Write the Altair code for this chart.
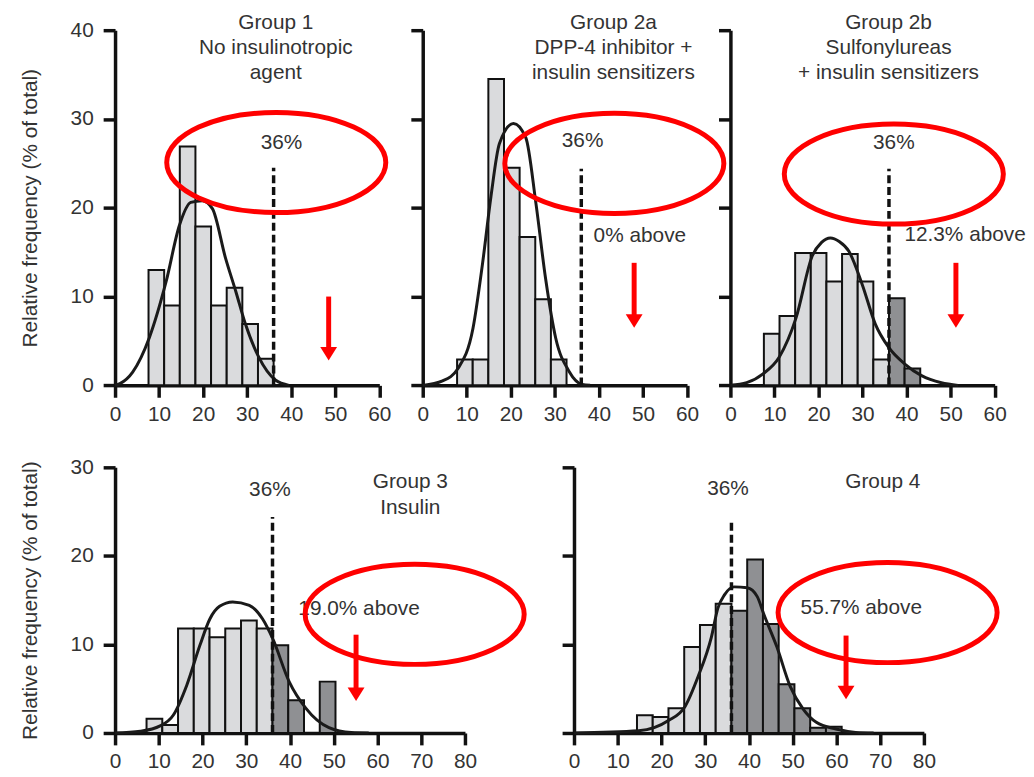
import altair as alt
import pandas as pd

FONT = "Liberation Sans"
TEXT_COLOR = "#333333"
LIGHT = "#dadbdd"
DARK = "#8f9093"
RED = "#ff0000"
THRESHOLD = 36
Y_TITLE = "Relative frequency (% of total)"
FS = 21

# ---------------- Group 1 ----------------
G1_BIN_START = [7.6, 11.15, 14.7, 18.25, 21.8, 25.35, 28.9, 32.45]
G1_BIN_WIDTH = 3.55
G1_FREQ = [13.0, 9.0, 26.9, 17.9, 9.0, 11.0, 6.9, 3.0]
G1_CURVE_X = [0, 1.1, 4.0, 7.8, 11.6, 14.6, 17.2, 19.8, 22.1, 25.1, 27.4, 29.6, 32.6, 36.4, 39.5]
G1_CURVE_Y = [0, 0.2, 1.5, 5.4, 11.7, 18.0, 20.6, 20.8, 19.9, 14.3, 10.6, 6.9, 3.2, 0.6, 0]
G1_TITLE = ["Group 1", "No insulinotropic", "agent"]

# ---------------- Group 2a ----------------
G2A_BIN_START = [7.8, 11.35, 14.9, 18.45, 22.0, 25.55, 29.1]
G2A_BIN_WIDTH = 3.55
G2A_FREQ = [2.9, 2.9, 34.5, 24.5, 16.7, 9.7, 2.9]
G2A_CURVE_X = [0, 4.5, 8.0, 11.4, 13.6, 15.5, 17.4, 20.6, 23.4, 25.7, 27.9, 30.2, 33.2, 36.2, 38]
G2A_CURVE_Y = [0, 0.5, 1.9, 6.4, 13.8, 21.3, 27.2, 29.5, 27.9, 20.5, 12.0, 5.3, 1.6, 0.1, 0]
G2A_TITLE = ["Group 2a", "DPP-4 inhibitor +", "insulin sensitizers"]

# ---------------- Group 2b ----------------
G2B_BIN_START = [7.6, 11.15, 14.7, 18.25, 21.8, 25.35, 28.9, 32.45, 36.0, 39.55]
G2B_BIN_WIDTH = 3.55
G2B_FREQ = [5.8, 7.8, 14.9, 14.9, 11.7, 14.8, 11.7, 2.9, 9.8, 1.9]
G2B_CURVE_X = [0, 3.7, 7.4, 11.1, 14.9, 18.6, 20.7, 22.7, 24.7, 26.9, 29.9, 32.9, 35.9, 39.6, 43.4, 47.9, 51.7]
G2B_CURVE_Y = [0, 0.3, 1.3, 3.2, 7.6, 14.6, 16.1, 16.6, 16.2, 15.1, 11.4, 6.9, 4.3, 2.4, 1.1, 0.3, 0]
G2B_TITLE = ["Group 2b", "Sulfonylureas", "+ insulin sensitizers"]

# ---------------- Group 3 ----------------
G3_BIN_START = [7.2, 10.8, 14.4, 18.0, 21.6, 25.2, 28.8, 32.4, 36.0, 39.6, 46.8]
G3_BIN_WIDTH = 3.6
G3_FREQ = [1.6, 0.9, 11.8, 11.8, 10.8, 11.8, 12.7, 11.8, 9.9, 3.7, 5.8]
G3_CURVE_X = [0, 5.8, 10.3, 13.3, 16.4, 19.4, 21.7, 23.9, 26.9, 30.7, 33.7, 36.0, 39.8, 43.6, 48.9, 54, 58]
G3_CURVE_Y = [0, 0.2, 0.8, 2.0, 5.4, 9.9, 12.9, 14.3, 14.8, 14.4, 12.9, 10.7, 5.8, 2.8, 0.6, 0.05, 0]
G3_TITLE = ["Group 3", "Insulin"]

# ---------------- Group 4 ----------------
G4_BIN_START = [14.4, 18.0, 21.6, 25.2, 28.8, 32.4, 36.0, 39.6, 43.2, 46.8, 50.4, 54.0, 57.6]
G4_BIN_WIDTH = 3.6
G4_FREQ = [2.0, 1.8, 2.8, 9.7, 12.2, 14.6, 13.8, 19.6, 12.3, 5.5, 2.8, 0.6, 0.7]
G4_CURVE_X = [0, 14.8, 21.6, 25.4, 28.4, 31.4, 32.9, 34.4, 36.6, 39.6, 41.9, 43.4, 46.4, 49.4, 52.4, 55.4, 59.9, 64.4, 68.5]
G4_CURVE_Y = [0, 0.25, 1.4, 3.0, 6.4, 10.8, 14.1, 15.6, 16.5, 16.4, 15.4, 13.4, 9.7, 5.3, 2.7, 1.2, 0.45, 0.07, 0]
G4_TITLE = ["Group 4"]

# annotation texts
ABOVE_TEXT = ["", "0% above", "12.3% above", "19.0% above", "55.7% above"]

# annotation anchor values (data units)
TITLE_X = [36.5, 43.3, 35.9, 67.5, 70.6]
TITLE_Y = [[40.8, 38.0, 35.15], [40.8, 38.0, 35.15], [40.8, 38.0, 35.15], [28.3, 25.4], [28.3]]
PCT_X = [37.8, 36.3, 37.1, 35.4, 35.2]
PCT_Y = [27.3, 27.5, 27.3, 27.4, 27.5]
ABOVE_X = [None, 38.8, 39.5, 41.9, 51.8]
ABOVE_Y = [None, 16.8, 16.9, 14.0, 14.1]
ELL_X = [36.6, 43.5, 37.1, 68.5, 71.7]
ELL_Y = [25.1, 25.0, 23.8, 13.4, 13.6]
ARROW_X = [48.5, 48.0, 51.2, 55.1, 62.2]
ARROW_TOP = [10.0, 13.8, 13.8, 11.1, 11.0]
ARROW_TIP = [2.8, 6.5, 6.5, 3.6, 3.8]
DASH_TOP = [24.5, 24.4, 24.4, 24.4, 24.2]

ELL_W = 221
ELL_K = 0.457
c = 0.5523
ELLIPSE = (
    f"M -1 0 C -1 {-c*ELL_K:.4f} {-c} {-ELL_K} 0 {-ELL_K} "
    f"C {c} {-ELL_K} 1 {-c*ELL_K:.4f} 1 0 "
    f"C 1 {c*ELL_K:.4f} {c} {ELL_K} 0 {ELL_K} "
    f"C {-c} {ELL_K} -1 {c*ELL_K:.4f} -1 0 Z"
)
HEAD = "M -1 -1.6 L 1 -1.6 L 0 0 Z"


def panel(i, bin_start, bin_width, freq, cx, cy, title_lines, xmax, ymax, w, h, show_y):
    bars = pd.DataFrame({"start": bin_start, "freq": freq})
    bars["end"] = bars["start"] + bin_width
    bars["shade"] = ["dark" if s >= THRESHOLD - 1e-6 else "light" for s in bin_start]

    xscale = alt.Scale(domain=[0, xmax], nice=False, zero=False)
    yscale = alt.Scale(domain=[0, ymax], nice=False, zero=False)
    xaxis = alt.Axis(values=list(range(0, xmax + 1, 10)), title=None, labelPadding=6,
                     labelFlush=False, labelOverlap=False)
    if show_y:
        yaxis = alt.Axis(values=list(range(0, ymax + 1, 10)), title=Y_TITLE, labelPadding=10,
                         titlePadding=30, labelFlush=False, labelOverlap=False)
    else:
        yaxis = alt.Axis(values=list(range(0, ymax + 1, 10)), title=None, labels=False)

    def X(f):
        return alt.X(f, type="quantitative", scale=xscale, axis=xaxis)

    def Y(f):
        return alt.Y(f, type="quantitative", scale=yscale, axis=yaxis)

    layers = []
    layers.append(
        alt.Chart(bars).mark_rect(stroke="#111111", strokeWidth=2).encode(
            x=X("start"), x2="end", y=Y("freq"), y2=alt.datum(0),
            color=alt.Color("shade:N", scale=alt.Scale(domain=["light", "dark"], range=[LIGHT, DARK]),
                            legend=None),
        )
    )
    curve = pd.DataFrame({"x": cx, "y": cy})
    layers.append(
        alt.Chart(curve).mark_line(interpolate="monotone", color="#1a1a1a", strokeWidth=3).encode(
            x=X("x"), y=Y("y")
        )
    )
    dash = pd.DataFrame({"x": [THRESHOLD], "y": [0], "y2": [DASH_TOP[i]]})
    layers.append(
        alt.Chart(dash).mark_rule(strokeDash=[8, 4], strokeWidth=3.5, color="#111111").encode(
            x=X("x"), y=Y("y"), y2="y2"
        )
    )
    ctexts = pd.DataFrame({
        "x": [TITLE_X[i]] * len(title_lines) + [PCT_X[i]],
        "y": TITLE_Y[i] + [PCT_Y[i]],
        "text": title_lines + ["36%"],
    })
    layers.append(
        alt.Chart(ctexts).mark_text(font=FONT, fontSize=FS, color=TEXT_COLOR, align="center",
                                    baseline="middle").encode(x=X("x"), y=Y("y"), text="text:N")
    )
    if ABOVE_X[i] is not None:
        ltexts = pd.DataFrame({"x": [ABOVE_X[i]], "y": [ABOVE_Y[i]], "text": [ABOVE_TEXT[i]]})
        layers.append(
            alt.Chart(ltexts).mark_text(font=FONT, fontSize=FS, color=TEXT_COLOR, align="left",
                                        baseline="middle").encode(x=X("x"), y=Y("y"), text="text:N")
        )
    ell = pd.DataFrame({"x": [ELL_X[i]], "y": [ELL_Y[i]]})
    layers.append(
        alt.Chart(ell).mark_point(shape=ELLIPSE, size=ELL_W ** 2, filled=False, color=RED,
                                  strokeWidth=5, opacity=1).encode(x=X("x"), y=Y("y"))
    )
    arr = pd.DataFrame({"x": [ARROW_X[i]], "top": [ARROW_TOP[i]], "tip": [ARROW_TIP[i]]})
    arr["shaft_end"] = arr["tip"] + 0.8
    layers.append(
        alt.Chart(arr).mark_rule(color=RED, strokeWidth=5).encode(
            x=X("x"), y=Y("top"), y2="shaft_end"
        )
    )
    layers.append(
        alt.Chart(arr).mark_point(shape=HEAD, size=289, filled=True, color=RED, opacity=1,
                                  strokeWidth=0).encode(x=X("x"), y=Y("tip"))
    )
    return alt.layer(*layers).properties(width=w, height=h)


TW, TH = 266.6, 358.3
BW, BH = 353, 268

p1 = panel(0, G1_BIN_START, G1_BIN_WIDTH, G1_FREQ, G1_CURVE_X, G1_CURVE_Y, G1_TITLE, 60, 40, TW, TH, True)
p2 = panel(1, G2A_BIN_START, G2A_BIN_WIDTH, G2A_FREQ, G2A_CURVE_X, G2A_CURVE_Y, G2A_TITLE, 60, 40, TW, TH, False)
p3 = panel(2, G2B_BIN_START, G2B_BIN_WIDTH, G2B_FREQ, G2B_CURVE_X, G2B_CURVE_Y, G2B_TITLE, 60, 40, TW, TH, False)
p4 = panel(3, G3_BIN_START, G3_BIN_WIDTH, G3_FREQ, G3_CURVE_X, G3_CURVE_Y, G3_TITLE, 80, 30, BW, BH, True)
p5 = panel(4, G4_BIN_START, G4_BIN_WIDTH, G4_FREQ, G4_CURVE_X, G4_CURVE_Y, G4_TITLE, 80, 30, BW, BH, False)

top = alt.hconcat(p1, p2, p3, spacing=43.4, bounds="flush")
bottom = alt.hconcat(p4, p5, spacing=110, bounds="flush")

chart = (
    alt.vconcat(top, bottom, spacing=32)
    .properties(padding={"left": 11, "top": 0, "right": 0, "bottom": 0}, background="white")
    .configure_view(stroke=None)
    .configure_axis(
        domainColor="#111111", domainWidth=3.5, tickColor="#111111", tickWidth=3.5, tickSize=12,
        labelFont=FONT, labelFontSize=FS, labelColor=TEXT_COLOR, grid=False,
        titleFont=FONT, titleFontSize=FS, titleColor=TEXT_COLOR, titleFontWeight="normal",
    )
)

chart.save("out.html", embed_options={"renderer": "svg", "actions": False})
